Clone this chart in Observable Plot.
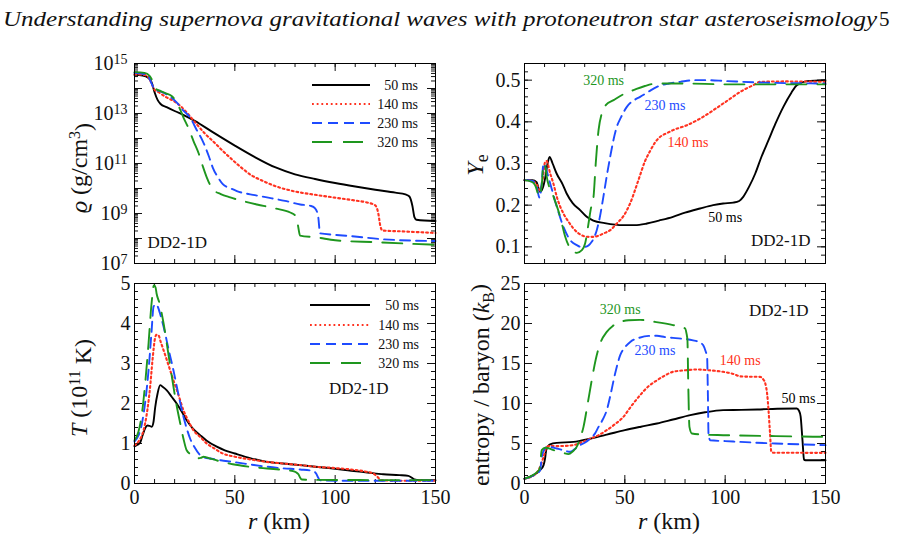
<!DOCTYPE html>
<html>
<head>
<meta charset="utf-8">
<script src="https://cdn.jsdelivr.net/npm/d3@7"></script>
<script src="https://cdn.jsdelivr.net/npm/@observablehq/plot@0.6"></script>
<style>
  body { margin: 0; background: #fff; }
  #fig { position: relative; width: 897px; height: 539px; overflow: hidden; font-family: "Liberation Serif", serif; }
  #fig svg { position: absolute; left: 0; top: 0; }
</style>
</head>
<body>
<div id="fig"></div>
<script>
// ---- snapshots (post-bounce times) ----
const times = ["50 ms", "140 ms", "230 ms", "320 ms"];
const colors = ["#000000", "#ff3220", "#1e4bff", "#1e961e"];
const dashes = [null, "1.8 2.9", "10 6", "20 11"];
const widths = [1.9, 2.1, 1.9, 1.9];

// ---- density rho (g/cm^3) vs r (km) ----
const rho50 = [[0,3.5e14],[4,3.3e14],[7,2.6e14],[8.5,1.8e14],[10,7.1e13],[11.5,3.5e13],[13,2.4e13],[16,1.8e13],[20,1.26e13],[25,8.3e12],[30,5.1e12],[40,1.6e12],[50,5.2e11],[60,1.8e11],[70,7.1e10],[80,3.7e10],[90,2.4e10],[100,1.66e10],[110,1.2e10],[120,8.9e9],[130,6.8e9],[135,5.8e9],[137,4.8e9],[138.5,2.0e9],[139.5,7.1e8],[140.5,5.6e8],[150,5.0e8]];
const rho140 = [[0,3.7e14],[5,3.5e14],[7,2.8e14],[8.5,1.6e14],[10,8.9e13],[12,7.1e13],[16,4.4e13],[20,3.0e13],[22,2.3e13],[26,1.1e13],[31,3.7e12],[35,1.6e12],[39,7.9e11],[44,3.2e11],[48,1.6e11],[53,7.1e10],[58,3.5e10],[64,2.0e10],[70,1.26e10],[80,7.6e9],[90,5.6e9],[100,4.3e9],[110,3.3e9],[116,2.75e9],[120,2.1e9],[121.5,1.0e9],[122.5,3.2e8],[123.5,2.1e8],[135,1.9e8],[150,1.66e8]];
const rho230 = [[0,4.2e14],[5,3.8e14],[7,3.0e14],[8.5,1.6e14],[10,9.5e13],[13,7.6e13],[17,5.2e13],[21,2.8e13],[24,1.4e13],[27.7,6.9e12],[31,2.2e12],[34,7.9e11],[37,2.0e11],[39,6.9e10],[42,2.5e10],[44,1.5e10],[48,1.0e10],[51,7.9e9],[60,5.4e9],[66,4.4e9],[75,3.2e9],[82.6,2.3e9],[88,2.0e9],[90,1.6e9],[91.5,7.9e8],[92.5,1.6e8],[100,1.4e8],[107,1.26e8],[124,9.3e7],[150,7.9e7]];
const rho320 = [[0,4.5e14],[5,4.2e14],[7.5,3.2e14],[9,2.0e14],[10.5,1.0e14],[13,7.9e13],[16,6.3e13],[18.5,5.0e13],[20,3.7e13],[22.5,1.6e13],[24.4,6.9e12],[27,2.5e12],[29.4,7.9e11],[32,2.5e11],[34,7.9e10],[36,2.8e10],[39,9.3e9],[43,6.0e9],[47.7,4.4e9],[55,3.0e9],[61,2.3e9],[70,1.6e9],[77.6,1.1e9],[80.5,7.6e8],[81.5,3.2e8],[82.5,1.3e8],[91,1.1e8],[100,8.5e7],[120,7.1e7],[150,5.6e7]];

// ---- electron fraction Ye vs r ----
const ye50 = [[0,0.26],[4,0.26],[6,0.255],[7.8,0.232],[9,0.24],[10.3,0.265],[11.5,0.3],[12.5,0.316],[14,0.3],[16,0.276],[19,0.25],[21,0.228],[24,0.205],[27.7,0.188],[31,0.172],[34.3,0.163],[40,0.157],[49,0.152],[55,0.152],[61,0.156],[67,0.163],[74,0.172],[80,0.182],[87.5,0.192],[94,0.2],[99,0.204],[104,0.206],[107,0.21],[109,0.22],[112,0.245],[115,0.276],[118,0.315],[121.6,0.356],[125,0.395],[129,0.436],[133,0.47],[135.7,0.488],[140.7,0.4976],[150,0.5]];
const ye140 = [[0,0.26],[4,0.258],[6,0.25],[7.8,0.235],[9,0.26],[10.3,0.304],[11,0.306],[12.8,0.276],[14.5,0.25],[16.1,0.22],[19.4,0.18],[22,0.16],[24.4,0.144],[27,0.132],[29.4,0.126],[32,0.124],[34.4,0.124],[37,0.127],[39.3,0.132],[42.7,0.14],[46,0.156],[49.5,0.175],[52.7,0.205],[56.9,0.262],[60,0.305],[62.6,0.33],[65,0.35],[67.6,0.364],[71,0.373],[74,0.38],[81,0.392],[89,0.412],[99,0.444],[109,0.476],[114,0.488],[117.4,0.496],[130,0.497],[150,0.496]];
const ye230 = [[0,0.26],[4,0.258],[6,0.245],[7.5,0.218],[8.5,0.25],[9.5,0.3],[10.5,0.29],[12.8,0.252],[16.1,0.196],[19.4,0.148],[22.8,0.116],[26.1,0.104],[28,0.1],[30.2,0.1],[33.5,0.112],[36,0.14],[37.5,0.17],[39.3,0.22],[41,0.27],[42.7,0.316],[44.5,0.36],[46,0.388],[48,0.41],[51,0.436],[55,0.453],[57.6,0.46],[62,0.473],[66,0.484],[72,0.492],[77.6,0.496],[85,0.5],[91,0.5],[100,0.498],[120,0.494],[150,0.492]];
const ye320 = [[0,0.26],[4,0.255],[5.3,0.248],[7.5,0.22],[8.6,0.248],[9.5,0.3],[10.5,0.29],[11.1,0.268],[14.5,0.22],[17.8,0.172],[20.3,0.124],[22.8,0.096],[24.5,0.088],[26.1,0.0856],[28.6,0.092],[30.2,0.108],[31.9,0.156],[33,0.19],[34.4,0.22],[35.5,0.3],[36.9,0.38],[38.5,0.42],[40.5,0.44],[44.4,0.452],[50,0.468],[54.3,0.476],[60,0.486],[66,0.492],[80,0.492],[100,0.49],[150,0.49]];

// ---- temperature T (1e11 K) vs r ----
const temp50 = [[0,0.93],[1.5,0.97],[2.8,1.02],[4,1.2],[5.3,1.38],[6.5,1.45],[7.5,1.44],[8.6,1.42],[9.5,1.55],[10.3,1.9],[11.5,2.25],[12.8,2.46],[14,2.42],[16.1,2.33],[18.5,2.17],[21,2.0],[23.5,1.8],[26,1.58],[29,1.38],[32.7,1.21],[36,1.07],[41,0.92],[45,0.83],[50,0.75],[58,0.63],[66,0.54],[74,0.5],[82.6,0.46],[90,0.42],[99,0.375],[108,0.32],[116,0.275],[124,0.23],[132,0.21],[136.5,0.19],[138,0.15],[139.5,0.1],[142,0.085],[150,0.083]];
const temp140 = [[0,0.95],[2,1.05],[4.5,1.33],[6,1.7],[7.8,2.42],[9,3.1],[10.3,3.65],[11,3.72],[12,3.7],[13,3.55],[14.5,3.33],[17,2.95],[19.4,2.58],[22,2.2],[24.4,1.83],[27,1.55],[29.4,1.33],[33,1.15],[36,1.0],[40,0.87],[44,0.75],[50,0.67],[58,0.6],[66,0.54],[74,0.5],[82.6,0.46],[90,0.42],[99,0.39],[108,0.35],[116,0.29],[119,0.25],[121,0.17],[123,0.08],[130,0.07],[150,0.067]];
const temp230 = [[0,1.05],[2,1.2],[3.7,1.5],[5.5,2.1],[7,2.83],[8.5,3.8],[9.5,4.42],[10.5,4.48],[11.5,4.43],[13,4.2],[14.5,3.92],[17,3.35],[19.4,2.83],[22,2.2],[24.4,1.67],[26,1.38],[27.7,1.125],[30,0.9],[32.7,0.71],[35,0.65],[37.7,0.625],[43,0.58],[49,0.54],[57,0.48],[66,0.42],[74,0.38],[82.6,0.35],[89,0.31],[90.5,0.25],[91.5,0.15],[92.5,0.08],[100,0.07],[150,0.067]];
const temp320 = [[0,1.08],[2,1.3],[3.7,1.75],[5.5,2.6],[7,3.5],[8.5,4.5],[9.7,4.96],[10.5,4.9],[11,4.75],[12.5,4.5],[14.5,4.0],[17,3.2],[19.4,2.42],[21,1.95],[22.8,1.5],[24.4,1.12],[26,0.83],[28.6,0.71],[31,0.63],[33,0.64],[34.4,0.67],[36,0.65],[37.7,0.625],[43,0.55],[49,0.48],[57,0.42],[66,0.375],[74,0.34],[79,0.31],[80.5,0.28],[81.7,0.23],[82.5,0.15],[83.4,0.1],[90,0.09],[150,0.083]];

// ---- entropy per baryon (k_B) vs r ----
const ent50 = [[0,0.6],[4.5,1.04],[7.8,1.67],[9.5,2.3],[10.3,3.2],[10.8,4.17],[12,4.75],[12.8,4.9],[16.1,5.08],[24.4,5.2],[28,5.35],[32.7,5.6],[41,6.1],[50,6.67],[58,7.1],[66,7.5],[74,8.0],[82.6,8.54],[90,8.9],[99,9.17],[108,9.2],[116,9.25],[126,9.35],[135.7,9.375],[136.8,9.1],[137.6,8.4],[138.5,5.5],[139.3,3.0],[140,2.9],[150,2.9]];
const ent140 = [[0,0.6],[4.5,1.0],[7.8,2.08],[9.5,3.33],[11.1,4.58],[13,4.7],[16.1,4.67],[24.4,4.8],[28,5.1],[32.7,5.6],[37,6.05],[41,6.67],[45,7.4],[49.3,8.33],[53,9.6],[57.6,11.04],[62,12.2],[66,12.9],[70,13.5],[74,13.96],[80,14.15],[86,14.25],[92,14.15],[99,13.96],[104,13.7],[107.5,13.4],[112,13.35],[117.4,13.33],[119,13.0],[120,12.5],[121,11.0],[121.6,9.17],[122.3,6.5],[123,3.96],[124,3.85],[150,3.83]];
const ent230 = [[0,0.6],[4.5,1.0],[7.8,1.67],[8.6,3.33],[10,4.3],[11.1,4.58],[13,4.55],[16.1,4.375],[19.5,4.15],[22.8,3.96],[25,4.3],[27.7,4.8],[30,5.1],[32.7,5.6],[35,6.2],[36.9,7.08],[39,8.0],[41,9.17],[42.8,11.0],[44.4,12.9],[46,14.6],[47.7,16.04],[50,17.0],[52.7,17.7],[57,18.2],[62,18.45],[66,18.46],[70,18.3],[74,18.2],[84,17.9],[87.5,17.6],[89,17.3],[90.3,16.5],[91,15.8],[91.4,11],[91.7,6.25],[92.5,5.4],[100,5.3],[107.5,5.2],[125,5.0],[150,4.8]];
const ent320 = [[0,0.6],[4.5,1.1],[7.5,1.8],[8.6,4.17],[10.3,4.46],[12,4.4],[14.5,4.17],[17,4.0],[19.4,3.83],[21.9,3.67],[24,4.0],[26,4.58],[27.5,5.5],[29.4,7.08],[31.5,10],[33.5,12.9],[35.5,15.5],[37.7,17.5],[41,18.96],[44,19.7],[47.7,20.2],[52,20.4],[57.6,20.45],[65,20.2],[74,19.8],[80,19.4],[80.7,18.8],[81.2,17.9],[81.6,12.5],[82.2,7.08],[83.4,6.25],[90,6.1],[99,6.04],[125,5.92],[150,5.83]];

// ---- in-panel labels of the snapshots: [r, value, text] ----
const yeNotes = [[39.4, 0.5, "320 ms"], [70, 0.438, "230 ms"], [81.5, 0.35, "140 ms"], [100, 0.17, "50 ms"]];
const entNotes = [[47.7, 21.75, "320 ms"], [65, 16.67, "230 ms"], [107.5, 15.33, "140 ms"], [136.5, 10.6, "50 ms"]];
const noteColors = [colors[3], colors[2], colors[1], colors[0]];

// ---- axis ticks ----
const rMajor = [0, 50, 100, 150];
const rMinor = d3.range(0, 151, 10);
const rhoLabels = [1e7, 1e9, 1e11, 1e13, 1e15];
const rhoMajor = d3.range(7, 16).map(k => 10 ** k);
const rhoMinor = d3.range(7, 15).flatMap(k => d3.range(2, 10).map(m => m * 10 ** k));
const yeLabels = [0.1, 0.2, 0.3, 0.4, 0.5];
const yeMinor = d3.range(3, 28).map(i => i * 0.02);
const tLabels = [0, 1, 2, 3, 4, 5];
const tMinor = d3.range(0, 26).map(i => i * 0.2);
const sLabels = [0, 5, 10, 15, 20, 25];
const sMinor = d3.range(0, 26);

const W = 897, H = 539, PW = 301, PH = 200;
const fig = document.getElementById("fig");

function panel({left, top, y, yMajor, yMinor, yLabels, yFormat, yPad, xAxis, series, notes, tag}) {
  const marks = [
    // inward ticks on all four sides of the frame
    Plot.tickX(rMinor, {x: d => d, insetTop: PH - 4}),
    Plot.tickX(rMinor, {x: d => d, insetBottom: PH - 4}),
    Plot.tickX(rMajor, {x: d => d, insetTop: PH - 8}),
    Plot.tickX(rMajor, {x: d => d, insetBottom: PH - 8}),
    Plot.tickY(yMinor, {y: d => d, insetRight: PW - 4}),
    Plot.tickY(yMinor, {y: d => d, insetLeft: PW - 4}),
    Plot.tickY(yMajor, {y: d => d, insetRight: PW - 8}),
    Plot.tickY(yMajor, {y: d => d, insetLeft: PW - 8}),
    Plot.axisY({ticks: yLabels, tickSize: 0, tickPadding: yPad, tickFormat: yFormat, fontSize: 20, label: null})
  ];
  if (xAxis) marks.push(Plot.axisX({ticks: rMajor, tickSize: 0, tickPadding: 6, fontSize: 20, label: null}));
  series.forEach((s, i) => {
    marks.push(Plot.line(s, {
      x: d => d[0], y: d => d[1], stroke: colors[i], strokeWidth: widths[i],
      strokeDasharray: dashes[i], curve: "monotone-x"
    }));
  });
  if (notes) {
    marks.push(Plot.text(notes, {
      x: d => d[0], y: d => d[1], text: d => d[2], fill: (d, i) => noteColors[i],
      fontSize: 14, textAnchor: "middle", lineAnchor: "middle"
    }));
  }
  marks.push(Plot.text(["DD2-1D"], {
    text: d => d, frameAnchor: tag.anchor, dx: tag.dx, dy: tag.dy,
    textAnchor: tag.textAnchor, lineAnchor: "middle", fontSize: 17, fill: "#111"
  }));
  marks.push(Plot.frame({stroke: "#000", strokeWidth: 1}));
  const svg = Plot.plot({
    width: W, height: H,
    marginLeft: left, marginRight: W - left - PW, marginTop: top, marginBottom: H - top - PH,
    x: xAxis ? {domain: [0, 150]} : {domain: [0, 150], axis: null},
    y,
    style: {background: "transparent", fontFamily: "'Liberation Serif', serif", color: "#111", overflow: "visible"},
    marks
  });
  fig.appendChild(svg);
  return svg;
}

// density (log scale)
const rhoSvg = panel({
  left: 134, top: 63,
  y: {type: "log", domain: [1e7, 1e15]},
  yMajor: rhoMajor, yMinor: rhoMinor, yLabels: rhoLabels,
  yFormat: d => String(Math.round(Math.log10(d))), yPad: 7,
  xAxis: false, series: [rho50, rho140, rho230, rho320],
  tag: {anchor: "bottom-left", dx: 13, dy: -21, textAnchor: "start"}
});
// write the log tick labels as 10 with a raised exponent
rhoSvg.querySelectorAll('g[aria-label="y-axis tick label"] text').forEach(t => {
  const e = t.textContent;
  t.textContent = "10";
  const sup = document.createElementNS("http://www.w3.org/2000/svg", "tspan");
  sup.setAttribute("dy", "-0.42em");
  sup.setAttribute("font-size", "14");
  sup.textContent = e;
  t.appendChild(sup);
});

// electron fraction
panel({
  left: 524, top: 63,
  y: {domain: [0.06, 0.54]},
  yMajor: yeLabels, yMinor: yeMinor, yLabels: yeLabels,
  yFormat: d3.format(".1f"), yPad: 4,
  xAxis: false, series: [ye50, ye140, ye230, ye320], notes: yeNotes,
  tag: {anchor: "bottom-right", dx: -15, dy: -23, textAnchor: "end"}
});

// temperature
panel({
  left: 134, top: 283,
  y: {domain: [0, 5]},
  yMajor: tLabels, yMinor: tMinor, yLabels: tLabels,
  yFormat: d3.format("d"), yPad: 4,
  xAxis: true, series: [temp50, temp140, temp230, temp320],
  tag: {anchor: "top-right", dx: -47, dy: 105, textAnchor: "end"}
});

// entropy
panel({
  left: 524, top: 283,
  y: {domain: [0, 25]},
  yMajor: sLabels, yMinor: sMinor, yLabels: sLabels,
  yFormat: d3.format("d"), yPad: 4,
  xAxis: true, series: [ent50, ent140, ent230, ent320], notes: entNotes,
  tag: {anchor: "top-right", dx: -17, dy: 27, textAnchor: "end"}
});

// ---- running header, axis titles and legends ----
const ov = d3.select(fig).append("svg")
  .attr("width", W).attr("height", H)
  .style("font-family", "'Liberation Serif', serif").style("fill", "#111");

ov.append("text").attr("x", 3).attr("y", 26).attr("font-size", 22).attr("font-style", "italic")
  .attr("textLength", 874).attr("lengthAdjust", "spacingAndGlyphs")
  .text("Understanding supernova gravitational waves with protoneutron star asteroseismology");
ov.append("text").attr("x", 879).attr("y", 26).attr("font-size", 21).text("5");

function yTitle(x, y, parts) {
  const t = ov.append("text").attr("transform", `translate(${x},${y}) rotate(-90)`)
    .attr("text-anchor", "middle").attr("font-size", 24);
  parts.forEach(p => {
    const s = t.append("tspan").text(p.t);
    if (p.i) s.attr("font-style", "italic");
    if (p.dy) s.attr("dy", p.dy);
    if (p.fs) s.attr("font-size", p.fs);
  });
}
yTitle(87, 168, [{t: "ϱ", i: true}, {t: " (g/cm"}, {t: "3", dy: "-0.45em", fs: 16}, {t: ")", dy: "0.45em"}]);
yTitle(87, 388, [{t: "T", i: true}, {t: " (10"}, {t: "11", dy: "-0.45em", fs: 16}, {t: " K)", dy: "0.45em"}]);
yTitle(483, 165, [{t: "Y", i: true}, {t: "e", dy: "0.3em", fs: 18}]);
yTitle(489, 385, [{t: "entropy / baryon ("}, {t: "k", i: true}, {t: "B", dy: "0.3em", fs: 16}, {t: ")", dy: "-0.3em"}]);

function xTitle(x) {
  const t = ov.append("text").attr("x", x).attr("y", 529).attr("text-anchor", "middle").attr("font-size", 24);
  t.append("tspan").attr("font-style", "italic").text("r");
  t.append("tspan").text(" (km)");
}
xTitle(279);
xTitle(669);

function legend(x1, x2, xt, rows) {
  times.forEach((name, i) => {
    const g = ov.append("g");
    g.append("line").attr("x1", x1).attr("x2", x2).attr("y1", rows[i]).attr("y2", rows[i])
      .attr("stroke", colors[i]).attr("stroke-width", widths[i])
      .attr("stroke-dasharray", dashes[i]);
    g.append("text").attr("x", xt).attr("y", rows[i]).attr("dy", "0.35em")
      .attr("text-anchor", "end").attr("font-size", 14).text(name);
  });
}
legend(312, 370, 418, [85, 104, 123, 142]);
legend(310, 370, 419, [305, 325, 344, 363]);
</script>
</body>
</html>
